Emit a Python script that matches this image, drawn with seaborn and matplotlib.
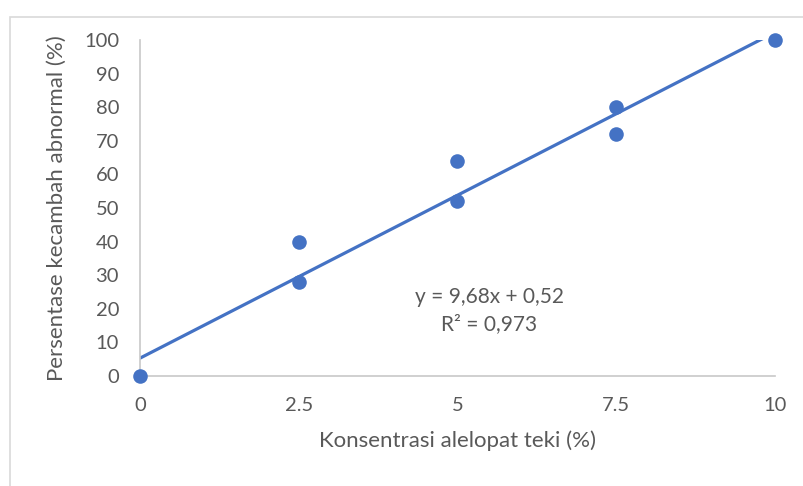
import matplotlib.pyplot as plt
import matplotlib.patches as mpatches
import numpy as np
import pandas as pd
import seaborn as sns

# data
konsentrasi = [0, 2.5, 2.5, 5, 5, 7.5, 7.5, 10]
abnormal = [0, 40, 28, 64, 52, 80, 72, 100]

# trend line as drawn (intercept/slope)
trend_x = [0, 10]
trend_intercept = 5.3
trend_slope = 9.7

x_ticks = [0, 2.5, 5, 7.5, 10]
x_ticklabels = ['0', '2.5', '5', '7.5', '10']
y_ticks = list(range(0, 101, 10))

df = pd.DataFrame({'x': konsentrasi, 'y': abnormal})
trend = pd.DataFrame({'x': trend_x,
                      'y': [trend_intercept + trend_slope * v for v in trend_x]})

sns.set_style('white')
plt.rcParams['font.family'] = ['Lato', 'DejaVu Sans']

blue = '#4472C4'
grey_txt = '#595959'

fig = plt.figure(figsize=(8.04, 4.86), dpi=100)
ax = fig.add_axes([0.174, 0.2263, 0.79, 0.6914])

sns.lineplot(data=trend, x='x', y='y', color=blue, linewidth=2.3, ax=ax)
sns.scatterplot(data=df, x='x', y='y', color=blue, s=110, edgecolor=blue,
                linewidth=0, ax=ax, clip_on=False, zorder=5)

ax.set_xlim(0, 10)
ax.set_ylim(0, 100)
ax.set_xticks(x_ticks)
ax.set_xticklabels(x_ticklabels)
ax.set_yticks(y_ticks)
ax.tick_params(length=0, labelsize=14.5, colors=grey_txt)
ax.tick_params(axis='x', pad=15)
ax.tick_params(axis='y', pad=15)

for s in ['top', 'right']:
    ax.spines[s].set_visible(False)
for s in ['left', 'bottom']:
    ax.spines[s].set_color('#c8c8c8')
    ax.spines[s].set_linewidth(1.2)

ax.set_xlabel('Konsentrasi alelopat teki (%)', fontsize=16, color=grey_txt, labelpad=12)
ax.set_ylabel('Persentase kecambah abnormal (%)', fontsize=16, color=grey_txt, labelpad=12)

ax.text(5.5, 23.5, 'y = 9,68x + 0,52', ha='center', va='center', fontsize=15, color=grey_txt)
ax.text(5.5, 15.5, 'R² = 0,973', ha='center', va='center', fontsize=15, color=grey_txt)

# outer chart frame (cut off on right and bottom)
fig.patches.append(mpatches.Rectangle((10 / 804, -0.1), 1.2, 1.1 - 17 / 486,
                                      transform=fig.transFigure, fill=False,
                                      edgecolor='#d9d9d9', linewidth=1.2))

fig.savefig('out.png', dpi=100)
